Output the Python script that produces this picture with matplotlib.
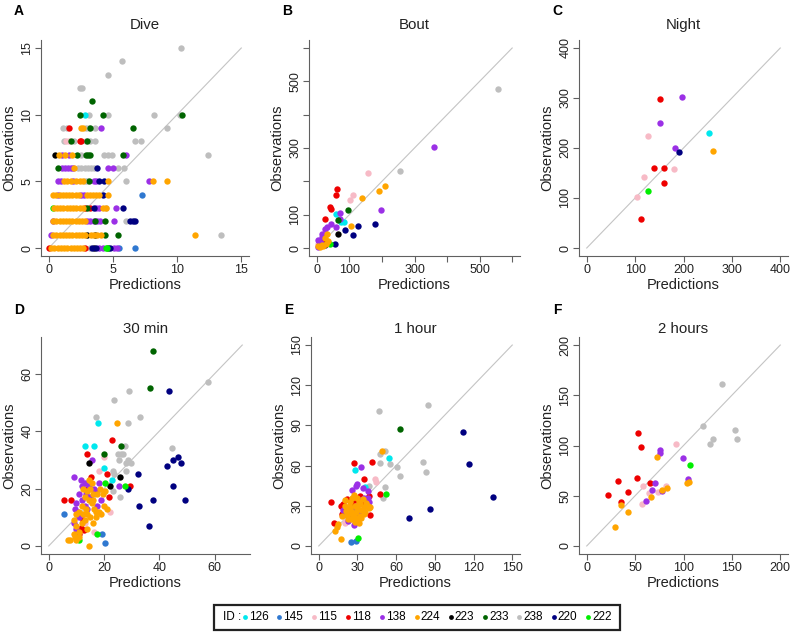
import matplotlib
matplotlib.use("Agg")
import matplotlib.pyplot as plt
from matplotlib.patches import Rectangle

plt.rcParams['font.family'] = ['Liberation Sans', 'DejaVu Sans']

W, H = 795, 636

ids = [126, 145, 115, 118, 138, 224, 223, 233, 238, 220, 222]
colors = {126: '#00E8EE', 145: '#2F78D0', 115: '#F7BAC6', 118: '#EE0000',
          138: '#9B30E6', 224: '#FFA500', 223: '#000000', 233: '#006400',
          238: '#BEBEBE', 220: '#000080', 222: '#00EE00'}
draw_order = [238, 145, 115, 126, 118, 138, 223, 233, 220, 222, 224]

# Dive: observation level -> predicted values, per ID
dive = {
    126: {10: [2.8]},
    145: {4: [7.25], 0: [5.5, 6.7]},
    115: {8: [1.35, 1.55]},
    118: {9: [1.6], 8: [2.4, 2.5], 3: [2.8, 3.2], 0: [0.05, 2.85]},
    138: {9: [4.1], 7: [1.0, 1.6, 6.0], 6: [1.0, 1.25, 1.5, 1.75, 1.9, 4.6, 5.0],
          5: [0.7, 0.95, 1.9, 3.5, 3.7, 7.8], 4: [0.7, 2.5, 2.75],
          3: [3.7, 3.95, 5.25], 2: [0.3, 3.0, 3.25, 3.5, 3.75, 4.0, 5.1],
          1: [0.2], 0: [3.95, 4.2, 5.1, 5.3]},
    224: {9: [2.5, 2.7], 7: [0.8, 1.3, 1.8], 6: [2.0],
          5: [1.2, 1.45, 1.7, 2.15, 2.4, 2.65, 4.6, 8.1, 9.2],
          4: [0.35, 0.6, 0.85, 1.1, 1.35, 1.6, 1.85, 2.1, 2.35, 2.95, 3.2, 3.45,
              3.7, 3.95, 4.6],
          3: [0.4, 0.65, 0.9, 1.15, 1.4, 1.65, 1.9, 2.15, 2.4, 2.65, 4.2, 4.45],
          2: [0.35, 0.6, 0.85, 1.1, 1.35, 1.6, 1.85, 2.1, 2.35, 2.6, 2.85],
          1: [0.35, 0.6, 0.85, 1.1, 1.35, 1.6, 1.85, 2.1, 2.35, 2.6, 2.85, 3.3,
              3.55, 3.8, 4.05, 11.4],
          0: [0.2, 0.45, 0.7, 0.95, 1.2, 1.45, 1.7, 1.95, 2.2, 2.45, 2.7]},
    223: {7: [0.5], 1: [3.0, 3.6], 0: [3.5]},
    233: {11: [3.4], 10: [2.4, 4.2, 10.4], 9: [3.2, 6.6], 8: [1.75, 2.95],
          7: [2.2, 2.9, 3.05, 3.2, 5.75], 6: [0.7], 5: [3.1], 3: [3.0],
          2: [3.6, 4.4], 1: [4.4, 5.4], 0: [4.6]},
    238: {15: [10.3], 14: [5.7], 13: [4.6], 12: [2.4, 2.6],
          10: [3.1, 4.6, 8.2, 10.2], 9: [1.1, 1.4, 2.9, 3.1, 3.6, 9.2],
          8: [1.2, 2.0, 2.9, 3.2, 3.6, 6.7, 7.2], 7: [2.5, 4.3, 4.6, 4.9, 12.4],
          6: [2.3, 2.55, 2.8, 3.05, 3.3, 3.55, 5.4, 5.9], 5: [2.8, 3.0, 6.0],
          3: [4.5], 2: [6.0], 1: [13.4], 0: [3.2]},
    220: {6: [3.8], 5: [3.9, 4.3], 4: [4.2], 3: [3.5, 5.8],
          2: [6.35, 6.55, 6.7], 0: [3.4, 3.7, 4.8]},
    222: {3: [0.35], 0: [4.45, 4.55]},
}

bout = {
    126: [(58, 101), (75, 78), (83, 78)],
    115: [(157, 225), (110, 158), (101, 143), (3, 12)],
    118: [(63, 177), (58, 160), (40, 123), (43, 116), (25, 86), (8, 20), (15, 10), (20, 22)],
    138: [(361, 302), (198, 115), (71, 104), (72, 87), (45, 71), (32, 62), (59, 63),
          (26, 57), (15, 43), (17, 33), (5, 23), (8, 8), (3, 3), (12, 15)],
    224: [(209, 186), (190, 172), (140, 151), (104, 65), (30, 43), (25, 30), (15, 10),
          (5, 5), (35, 20), (20, 5), (10, 2), (28, 12)],
    223: [(64, 43), (30, 15)],
    233: [(95, 115), (65, 84)],
    238: [(556, 476), (256, 232)],
    220: [(180, 73), (125, 67), (88, 53), (112, 38), (56, 13), (25, 8)],
    222: [(42, 11)],
}

night = {
    126: [(253, 231)],
    115: [(126, 225), (180, 158), (119, 143), (103, 102)],
    118: [(152, 298), (138, 160), (160, 160), (159, 131), (112, 59)],
    138: [(197, 302), (152, 250), (183, 201)],
    224: [(261, 195)],
    220: [(191, 192)],
    222: [(126, 115)],
}

min30 = {
    126: [(17.8, 43), (13.1, 35), (16.5, 35), (19.9, 27), (22.8, 23)],
    145: [(5.7, 11), (19.3, 4), (20.2, 1)],
    115: [(20.1, 31), (22.3, 12), (16.5, 5), (18, 26), (13, 8)],
    118: [(23, 37), (14, 32), (21, 25), (29.3, 21), (5.7, 16), (21.9, 17), (15.3, 24),
          (12.3, 9), (11.8, 6.4), (12.9, 5.7), (8, 16), (14, 20), (11, 4)],
    138: [(15.7, 30), (25.3, 21), (9.3, 24), (11.5, 23), (12, 21), (13, 22), (14.5, 21),
          (11, 18), (12, 16), (10, 15), (9.5, 13), (10.5, 12), (11, 10), (13, 14),
          (15, 17), (17, 19), (18, 22), (16.5, 20), (9, 8), (10, 6), (14, 13),
          (17.5, 14), (19, 16), (13.5, 18)],
    224: [(24.7, 43), (12.5, 20), (14, 19), (15, 20), (16, 18), (13, 17), (14.5, 16),
          (12, 14), (13.5, 13), (15.5, 15), (16.5, 13), (18, 12), (19, 11), (17, 10),
          (16, 16), (17.5, 18), (18.5, 20), (20, 14), (21, 13), (11, 12), (10, 11),
          (12.5, 11), (14, 11), (9, 9), (10, 7), (11, 5), (9, 4), (9.5, 3), (10, 2),
          (12, 8), (13, 9), (15, 10), (16, 8), (17, 12), (19.5, 18), (20.5, 19),
          (15.5, 22), (14.5, 23), (11, 3), (14, 6), (14.7, 0), (6.9, 2), (7.8, 2)],
    223: [(14.5, 29), (25.9, 24), (22.2, 21)],
    233: [(37.7, 67.9), (36.5, 55), (26, 35), (19.9, 32)],
    238: [(57.6, 57), (29.2, 54), (23.7, 51), (17.2, 44.9), (28.5, 43), (32.9, 44.9),
          (27.7, 35), (44.7, 34), (25.1, 32), (26.2, 32), (26.9, 32), (25.3, 30),
          (27.9, 29), (28.5, 30), (29.8, 29), (28, 26), (23.1, 26), (23.7, 25),
          (25.9, 17), (23.1, 19)],
    220: [(43.5, 54), (46.8, 31), (44.8, 30), (47.7, 29), (42.9, 28), (32.3, 25),
          (28.6, 20), (45.1, 21), (49.2, 16), (37.8, 16), (32.7, 14), (36.4, 7)],
    222: [(27.7, 21), (17.4, 4), (10.9, 2), (20.5, 22)],
}

hour1 = {
    126: [(54.5, 66), (28.2, 57), (36, 44)],
    145: [(25.1, 3), (29.2, 4)],
    115: [(43.4, 50), (44, 47.5), (20, 18), (24, 21), (22, 25), (20.4, 17.5)],
    118: [(41.1, 63), (27.6, 62), (35.4, 50), (47.3, 39), (9.6, 33), (39.5, 23),
          (12.1, 17), (17, 30), (18, 24), (19, 31), (21, 27), (25, 32), (28, 34),
          (32, 37), (35, 33), (22, 35), (26, 29), (39, 37)],
    138: [(32.8, 59), (30, 46), (28.7, 44.8), (34.4, 43), (38, 41), (27.4, 16),
          (19, 27), (21, 24), (23, 19), (26, 42), (32, 34), (38, 36), (39, 33),
          (35, 36), (29, 24), (27, 28), (24, 24), (30, 30), (33, 26)],
    224: [(48.8, 70.8), (12.4, 11.3), (14.2, 13.8), (15.2, 16.3), (17.3, 5),
          (20, 30), (22, 28), (24, 33), (25, 26), (26, 24), (27, 22), (28, 30),
          (29, 25), (30, 28), (31, 33), (32, 31), (33, 27), (34, 35), (35, 29),
          (36, 25), (37, 32), (38, 30), (39, 28), (40, 29), (23, 20), (25, 20),
          (28, 18), (30, 19), (32, 22), (22, 23), (26, 36), (20, 34), (18, 22),
          (21, 26), (27, 38), (30, 36), (33, 21), (35, 24), (31, 17), (29, 21), (24, 29)],
    233: [(62.8, 87)],
    238: [(84.8, 105), (47, 101), (51.7, 71), (47.3, 68.8), (47.5, 62), (55.6, 61),
          (60.5, 59), (81.1, 63), (82.9, 55), (62.8, 52), (51.7, 44), (39, 45),
          (49.6, 35.8), (36, 30)],
    220: [(112.1, 85), (116.3, 61), (135.4, 36.8), (86, 27.8), (70.3, 20.8)],
    222: [(52.5, 39), (30.7, 6)],
}

hour2 = {
    115: [(92, 101.3), (57.9, 59.6), (82, 59.6), (73.4, 53.6), (64.8, 52.3), (56.6, 41.7)],
    118: [(53.1, 112.6), (55.9, 98.7), (32.4, 64.9), (52.1, 67.9), (65.2, 62.6),
          (22.4, 51), (42.4, 53.6), (35.2, 43.7)],
    138: [(76.2, 96), (75.5, 92.7), (99.3, 87.7), (70.3, 62.6), (67.2, 55.6),
          (77.9, 54.3), (104.8, 66.9), (61, 44.4)],
    224: [(72.4, 88.7), (77.9, 55.6), (82.8, 58), (103.4, 62.6), (105.5, 64),
          (66.9, 48.7), (35.9, 40.7), (42.8, 33.8), (29.7, 18.5)],
    238: [(139.3, 161.3), (120, 119.5), (152.8, 115.6), (130, 106.6), (127.2, 101.7),
          (155.5, 106.6)],
    222: [(106.9, 80.8)],
}

# convert dive rows to point lists
dive_pts = {k: [(x, y) for y, xs in rows.items() for x in xs] for k, rows in dive.items()}

panels = [
    # letter, title, data, max, ticks, labelled ticks, box (l, t, r, b) in px
    ('A', 'Dive', dive_pts, 15, [0, 5, 10, 15], [0, 5, 10, 15], (41, 40, 249, 256)),
    ('B', 'Bout', bout, 600, [0, 100, 200, 300, 400, 500, 600], [0, 100, 300, 500],
     (309, 40, 520, 256)),
    ('C', 'Night', night, 400, [0, 100, 200, 300, 400], [0, 100, 200, 300, 400],
     (579, 40, 788, 256)),
    ('D', '30 min', min30, 70, [0, 20, 40, 60], [0, 20, 40, 60], (41, 337, 250, 554)),
    ('E', '1 hour', hour1, 150, [0, 30, 60, 90, 120, 150], [0, 30, 60, 90, 120, 150],
     (311, 337, 520, 554)),
    ('F', '2 hours', hour2, 200, [0, 50, 100, 150, 200], [0, 50, 100, 150, 200],
     (579, 337, 788, 554)),
]

fig = plt.figure(figsize=(W / 100, H / 100), dpi=100)
axis_col = '#606060'

for letter, title, data, m, ticks, labelled, (l, t, r, b) in panels:
    ax = fig.add_axes([l / W, 1 - b / H, (r - l) / W, (b - t) / H])
    ax.plot([0, m], [0, m], color='#C4C4C4', lw=0.8, zorder=1)
    for k in draw_order:
        if k in data:
            xs = [p[0] for p in data[k]]
            ys = [p[1] for p in data[k]]
            ax.scatter(xs, ys, s=21, color=colors[k], linewidths=0, zorder=2)
    ax.set_xlim(-0.04 * m, 1.04 * m)
    ax.set_ylim(-0.04 * m, 1.04 * m)
    labels = [str(v) if v in labelled else '' for v in ticks]
    ax.set_xticks(ticks)
    ax.set_xticklabels(labels)
    ax.set_yticks(ticks)
    ax.set_yticklabels(labels, rotation=90, va='center', ha='right')
    for s in ['top', 'right']:
        ax.spines[s].set_visible(False)
    for s in ['left', 'bottom']:
        ax.spines[s].set_color(axis_col)
        ax.spines[s].set_linewidth(0.8)
    ax.tick_params(direction='out', length=4, width=0.8, color=axis_col,
                   labelsize=9, labelcolor='#222222', pad=1.5)
    ax.set_xlabel('Predictions', fontsize=10.5, labelpad=2, color='#222222')
    ax.set_ylabel('Observations', fontsize=10.5, labelpad=4, color='#222222')
    cx = (l + r) / 2 / W
    ty = 25 if t < 100 else 329
    fig.text(cx, 1 - ty / H, title, ha='center', va='center', fontsize=10.8,
             color='#222222')
    ly = 11 if t < 100 else 310
    fig.text((l - 22) / W, 1 - ly / H, letter, ha='center', va='center',
             fontsize=10, fontweight='bold')

# legend box
lg_l, lg_t, lg_r, lg_b = 214, 605, 620, 630
lax = fig.add_axes([lg_l / W, 1 - lg_b / H, (lg_r - lg_l) / W, (lg_b - lg_t) / H])
lax.set_xlim(lg_l, lg_r)
lax.set_ylim(lg_b, lg_t)
lax.axis('off')
lax.add_patch(Rectangle((lg_l, lg_t), lg_r - lg_l, lg_b - lg_t, fill=False,
                        edgecolor='#222222', lw=1.6, clip_on=False))
yc = (lg_t + lg_b) / 2
lax.text(223, yc, 'ID :', ha='left', va='center', fontsize=8.5)
for i, k in enumerate(ids):
    dx = 245 + i * 34.3
    lax.scatter([dx], [yc - 0.5], s=12, color=colors[k], linewidths=0)
    lax.text(dx + 4, yc, str(k), ha='left', va='center', fontsize=8.5)

fig.savefig('out.png', dpi=100)
